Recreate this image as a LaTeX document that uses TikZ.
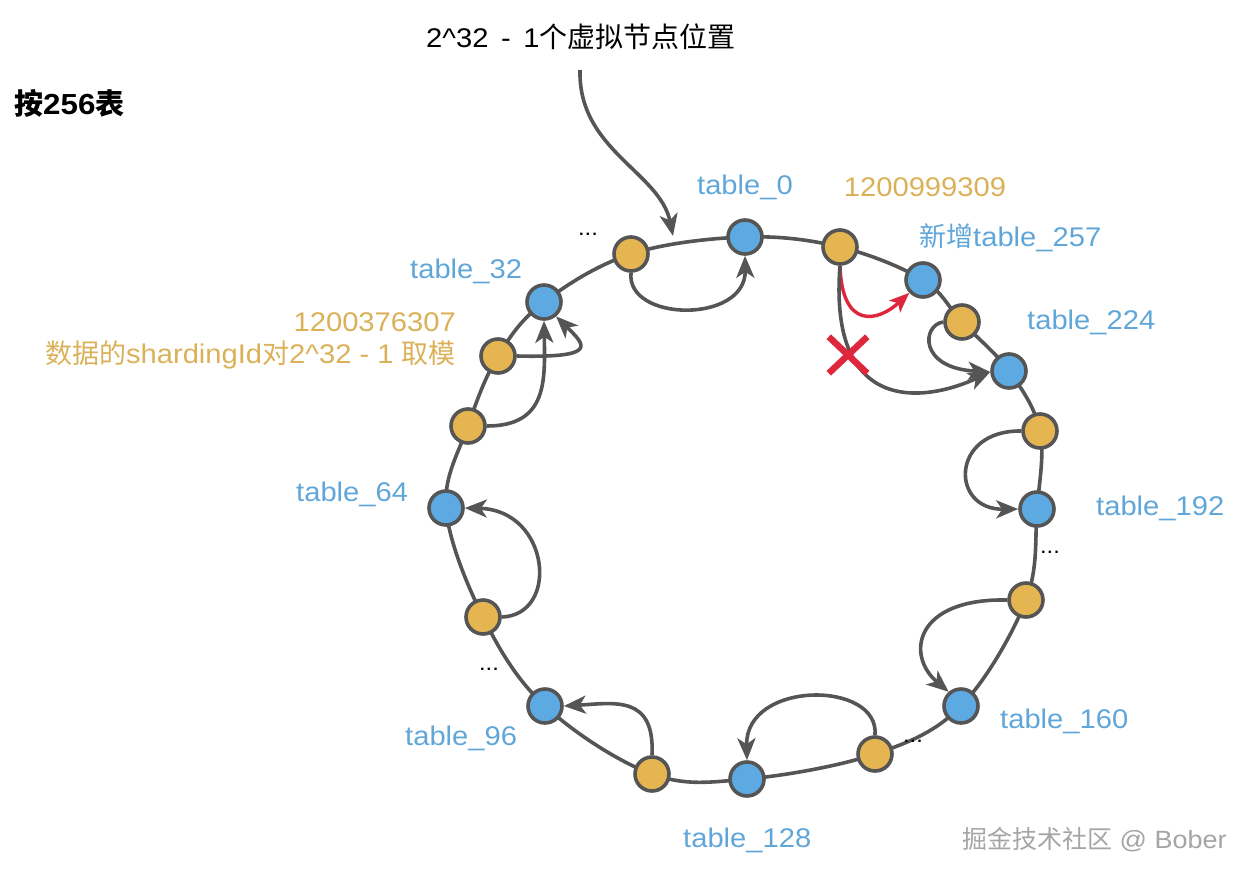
\documentclass[tikz,border=0pt]{standalone}
\usepackage{fontspec}
\setmainfont{Liberation Sans}[FakeStretch=1.08]
\newfontfamily\cjk{Noto Sans CJK SC}
\usetikzlibrary{arrows.meta,shapes.misc}
\definecolor{ringgray}{RGB}{85,85,85}
\definecolor{bluefill}{RGB}{93,169,225}
\definecolor{orangefill}{RGB}{228,181,80}
\definecolor{bluetext}{RGB}{97,166,216}
\definecolor{orangetext}{RGB}{218,177,88}
\definecolor{xred}{RGB}{222,38,60}
\definecolor{wmgray}{RGB}{165,165,165}
\tikzset{
  ring/.style={draw=ringgray, line width=3.6pt},
  bnode/.style={circle, draw=ringgray, fill=bluefill, line width=3.6pt, minimum size=34pt, inner sep=0pt},
  onode/.style={circle, draw=ringgray, fill=orangefill, line width=3.6pt, minimum size=34pt, inner sep=0pt},
  arr/.style={draw=ringgray, line width=3.6pt, -{Stealth[length=22pt,width=18pt,inset=6pt]}},
  redarr/.style={draw=xred, line width=3.4pt, -{Stealth[length=20pt,width=16pt,inset=5pt]}},
  lbl/.style={font=\fontsize{27}{32}\selectfont, inner sep=0pt},
  blbl/.style={lbl, text=bluetext},
  olbl/.style={lbl, text=orangetext},
  dots/.style={font=\fontsize{22}{26}\selectfont, inner sep=0pt, text=black},
  xmark/.style={cross out, draw=xred, line width=6.5pt, minimum width=32pt, minimum height=30pt, inner sep=0pt}
}
\begin{document}
\begin{tikzpicture}[x=1pt,y=-1pt]
\useasboundingbox (0,0) rectangle (1244,878);
% ring positions
\coordinate (c-t0) at (745,237);
\coordinate (c-o2) at (840,247);
\coordinate (c-t257) at (923,280);
\coordinate (c-o3) at (962,322);
\coordinate (c-t224) at (1009,371);
\coordinate (c-o4) at (1040,431);
\coordinate (c-t192) at (1037,509);
\coordinate (c-o5) at (1026,600);
\coordinate (c-t160) at (961,706);
\coordinate (c-o6) at (875,754);
\coordinate (c-t128) at (747,779);
\coordinate (c-o7) at (652,774);
\coordinate (c-t96) at (545,706);
\coordinate (c-o8) at (483,617);
\coordinate (c-t64) at (446,508);
\coordinate (c-o9) at (468,426);
\coordinate (c-o10) at (498,356);
\coordinate (c-t32) at (544,302);
\coordinate (c-o1) at (631,254);
\draw[ring] plot[smooth cycle, tension=0.6] coordinates {(c-t0) (c-o2) (c-t257) (c-o3) (c-t224) (c-o4) (c-t192) (c-o5) (c-t160) (c-o6) (c-t128) (c-o7) (c-t96) (c-o8) (c-t64) (c-o9) (c-o10) (c-t32) (c-o1)};

% nodes
\node[bnode] (t0) at (c-t0) {};
\node[onode] (o2) at (c-o2) {};
\node[bnode] (t257) at (c-t257) {};
\node[onode] (o3) at (c-o3) {};
\node[bnode] (t224) at (c-t224) {};
\node[onode] (o4) at (c-o4) {};
\node[bnode] (t192) at (c-t192) {};
\node[onode] (o5) at (c-o5) {};
\node[bnode] (t160) at (c-t160) {};
\node[onode] (o6) at (c-o6) {};
\node[bnode] (t128) at (c-t128) {};
\node[onode] (o7) at (c-o7) {};
\node[bnode] (t96) at (c-t96) {};
\node[onode] (o8) at (c-o8) {};
\node[bnode] (t64) at (c-t64) {};
\node[onode] (o9) at (c-o9) {};
\node[onode] (o10) at (c-o10) {};
\node[bnode] (t32) at (c-t32) {};
\node[onode] (o1) at (c-o1) {};

% texts
\node[lbl, anchor=west] (title) at (426,37) {2\textasciicircum 32 \,-\, 1{\cjk\fontsize{28}{32}\selectfont 个虚拟节点位置}};
\node[lbl, anchor=west, font=\fontsize{29}{34}\selectfont\bfseries] (head) at (14,103) {{\cjk\bfseries 按}256{\cjk\bfseries 表}};
\node[blbl] (l0) at (745,187) {table\_0};
\node[olbl] (lnum1) at (925,187) {1200999309};
\node[blbl, anchor=west] (l257) at (919,238) {{\cjk 新增}table\_257};
\node[blbl, anchor=west] (l224) at (1027,322) {table\_224};
\node[blbl, anchor=west] (l192) at (1096,508) {table\_192};
\node[blbl, anchor=west] (l160) at (1000,721) {table\_160};
\node[blbl, anchor=west] (l128) at (683,840) {table\_128};
\node[blbl, anchor=west] (l96) at (405,738) {table\_96};
\node[blbl, anchor=west] (l64) at (296,494) {table\_64};
\node[blbl, anchor=west] (l32) at (410,271) {table\_32};
\node[olbl, anchor=east] (lnum2) at (456,322) {1200376307};
\node[olbl, anchor=east] (lmod) at (456,355) {{\cjk 数据的}shardingId{\cjk 对}2\textasciicircum 32 - 1 {\cjk 取模}};
\node[dots] (d1) at (588,234) {...};
\node[dots] (d2) at (1050,552) {...};
\node[dots] (d3) at (489,669) {...};
\node[dots] (d4) at (913,741) {...};
\node[lbl, anchor=west, text=wmgray, font=\fontsize{25}{30}\selectfont] (wm) at (962,840) {{\cjk 掘金技术社区} @ Bober};

% connectors
\coordinate (tstart) at (580,70);
\coordinate (ringpt) at (673,236);
\draw[arr] (tstart) .. controls (578,150) and (660,172) .. (ringpt);
\draw[arr] (o1.south) .. controls (626,322) and (746,324) .. (t0.south);
\draw[redarr] (o2.south) .. controls (842,330) and (878,322) .. (t257.223);
\draw[arr] (o2.south) .. controls (828,420) and (930,400) .. (t224.183);
\draw[arr] (o3.west) .. controls (922,325) and (918,368) .. (t224.183);
\draw[arr] (o4.west) .. controls (950,430) and (950,510) .. (t192.west);
\draw[arr] (o5.west) .. controls (915,598) and (905,655) .. (t160.131);
\draw[arr] (o6.north) .. controls (880,680) and (745,680) .. (t128.north);
\draw[arr] (o7.north) .. controls (655,695) and (615,703) .. (t96.east);
\draw[arr] (o8.east) .. controls (560,615) and (550,510) .. (t64.east);
\draw[arr] (o9.east) .. controls (548,426) and (545,380) .. (t32.south);
\draw[arr] (o10.east) .. controls (600,358) and (585,345) .. (t32.-50);
\node[xmark] (x) at (848,355) {};
\end{tikzpicture}
\end{document}
